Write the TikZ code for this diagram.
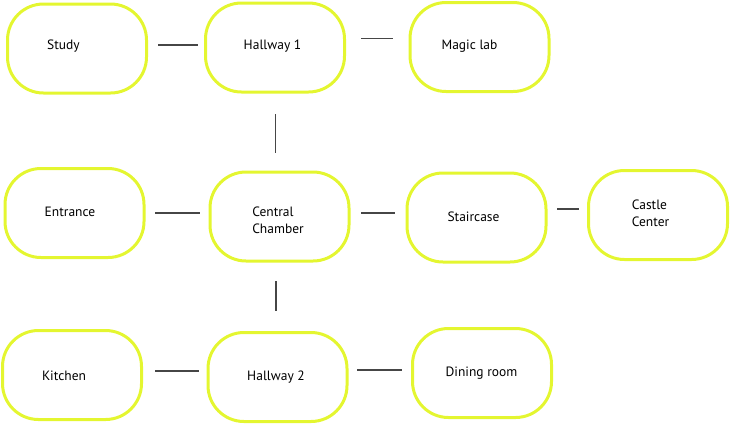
\documentclass[tikz,border=0pt]{standalone}
\usepackage{fontspec}
\setmainfont{PT Sans}
\definecolor{roomline}{RGB}{228,246,48}
\definecolor{connline}{RGB}{70,70,70}
\begin{document}
\begin{tikzpicture}[x=1pt,y=-1pt,
  room/.style={draw=roomline,line width=3pt,rounded corners=36pt,minimum width=139pt,minimum height=89pt,inner sep=0pt},
  lbl/.style={font=\fontsize{13.5}{17}\selectfont,inner sep=0pt,align=left,text=black},
  conn/.style={draw=connline,line width=1.1pt}]
\useasboundingbox (0,0) rectangle (730,424);
% rooms
\node[room] (study) at (77,48.5) {};
\node[room] (hall1) at (275,47.5) {};
\node[room] (magic) at (479.5,47) {};
\node[room] (entrance) at (74.5,213) {};
\node[room] (central) at (279.5,216.5) {};
\node[room] (stair) at (476.5,217.5) {};
\node[room] (castle) at (658,215) {};
\node[room] (kitchen) at (72,375) {};
\node[room] (hall2) at (277.5,377) {};
\node[room] (dining) at (482,373) {};
% labels
\node[lbl] (tstudy) at (63.5,46) {Study};
\node[lbl] (thall1) at (272.5,46) {Hallway 1};
\node[lbl] (tmagic) at (469.5,46) {Magic lab};
\node[lbl] (tentrance) at (70,212) {Entrance};
\node[lbl] (tcentral) at (278,220) {Central\\Chamber};
\node[lbl] (tstair) at (473.5,217) {Staircase};
\node[lbl] (tcastle) at (650.5,213.5) {Castle\\Center};
\node[lbl] (tkitchen) at (64,376) {Kitchen};
\node[lbl] (thall2) at (276,377) {Hallway 2};
\node[lbl] (tdining) at (481.5,373) {Dining room};
% connectors
\draw[conn,shorten <=10pt,shorten >=6pt] (study.east |- 0,45) -- (hall1.west |- 0,45);
\draw[conn,shorten <=15pt,shorten >=15.5pt] (hall1.east |- 0,38.5) -- (magic.west |- 0,38.5);
\draw[conn,shorten <=20.5pt,shorten >=17.5pt] (hall1.south -| 275.5,0) -- (central.north -| 275.5,0);
\draw[conn,shorten <=9.5pt,shorten >=8.5pt] (entrance.east |- 0,213) -- (central.west |- 0,213);
\draw[conn,shorten <=10.5pt,shorten >=10.5pt] (central.east |- 0,213) -- (stair.west |- 0,213);
\draw[conn,shorten <=9.5pt,shorten >=8pt] (stair.east |- 0,209) -- (castle.west |- 0,209);
\draw[conn,shorten <=18.5pt,shorten >=20pt] (central.south -| 276,0) -- (hall2.north -| 276,0);
\draw[conn,shorten <=12pt,shorten >=7.5pt] (kitchen.east |- 0,371) -- (hall2.west |- 0,371);
\draw[conn,shorten <=8.5pt,shorten >=9pt] (hall2.east |- 0,370) -- (dining.west |- 0,370);
\end{tikzpicture}
\end{document}
